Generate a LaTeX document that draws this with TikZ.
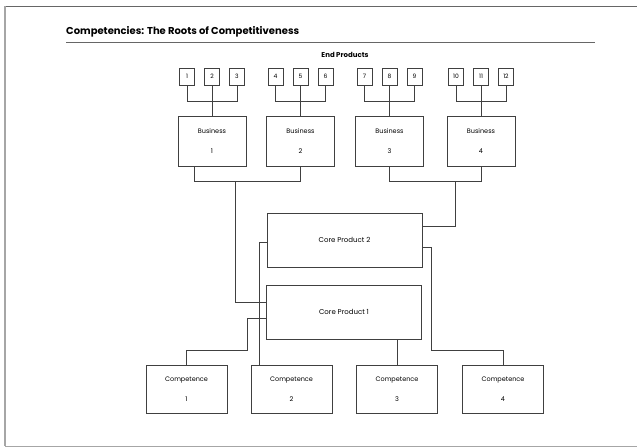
\documentclass[tikz,border=0pt]{standalone}
\usepackage{fontspec}
\setmainfont{Poppins}
\begin{document}
\begin{tikzpicture}[x=1pt,y=-1pt,
  ln/.style={draw=black!75,line width=0.8pt},
  epbox/.style={ln,rectangle,minimum width=15pt,minimum height=17pt,inner sep=0pt,font=\fontsize{6}{7}\selectfont},
  busbox/.style={ln,rectangle,minimum width=68pt,minimum height=50pt,inner sep=0pt,align=center,font=\fontsize{6.5}{20}\selectfont},
  corebox/.style={ln,rectangle,minimum width=155pt,minimum height=54pt,inner sep=0pt,font=\fontsize{7}{8}\selectfont},
  compbox/.style={ln,rectangle,minimum width=81pt,minimum height=48pt,inner sep=0pt,align=center,font=\fontsize{6.5}{20}\selectfont},
  conn/.style={ln}
]
\useasboundingbox (0,0) rectangle (637,447);
% frame
\draw[black!60,line width=0.8pt] (5,6) -- (637,6);
\draw[black!35,line width=1.6pt] (5,6) -- (5,446);
\draw[black!35,line width=0.8pt] (5,446) -- (637,446);
% title
\node[anchor=west,inner sep=0pt,font=\fontsize{10}{12}\bfseries] (title) at (66,32) {Competencies: The Roots of Competitiveness};
\draw[black!60,line width=1pt] (66,42) -- (595,42);
\node[inner sep=0pt,font=\fontsize{7}{8}\bfseries] (endp) at (345,55) {End Products};
% business boxes
\node[busbox] (b1) at (212,141) {Business\\1};
\node[busbox] (b2) at (300.5,141) {Business\\2};
\node[busbox] (b3) at (389.5,141) {Business\\3};
\node[busbox] (b4) at (481,141) {Business\\4};
% end product boxes
\foreach \g/\c in {1/212,2/300.5,3/389.5,4/481}{
  \pgfmathtruncatemacro{\na}{3*\g-2}
  \pgfmathtruncatemacro{\nb}{3*\g-1}
  \pgfmathtruncatemacro{\nc}{3*\g}
  \node[epbox] (e\na) at (\c-25,76.5) {\na};
  \node[epbox] (e\nb) at (\c,76.5) {\nb};
  \node[epbox] (e\nc) at (\c+25,76.5) {\nc};
  \draw[conn] (e\na.south) -- ++(0,16) -| (e\nc.south);
  \draw[conn] (e\nb.south) -- (b\g.north);
}
% core products
\node[corebox] (cp2) at (344.5,240) {Core Product 2};
\node[corebox] (cp1) at (344,312) {Core Product 1};
% competences
\node[compbox] (c1) at (186.5,389) {Competence\\1};
\node[compbox] (c2) at (291.5,389) {Competence\\2};
\node[compbox] (c3) at (397,389) {Competence\\3};
\node[compbox] (c4) at (503,389) {Competence\\4};
% business brackets
\coordinate (b1d) at ([xshift=-18pt]b1.south);
\draw[conn] (b1d) -- ++(0,15) -| (b2.south);
\coordinate (j12) at (235,181);
\draw[conn] (j12) |- ([yshift=10pt]cp1.west);
\draw[conn] (b3.south) -- ++(0,15) -| (b4.south);
\coordinate (j34) at (455,181);
\draw[conn] (j34) |- ([yshift=14pt]cp2.east);
% core to competences
\coordinate (v2) at (259,0);
\coordinate (v1) at (247,0);
\coordinate (v4) at (431,0);
\coordinate (h1) at (0,350);
\draw[conn] ([yshift=-2pt]cp2.west) -| (v2 |- c2.north);
\draw[conn] ([yshift=-6pt]cp1.west) -| (v1 |- h1) -| (c1.north);
\draw[conn] (cp1.south -| c3.north) -- (c3.north);
\draw[conn] ([yshift=-7pt]cp2.east) -| (v4 |- h1) -| (c4.north);
\end{tikzpicture}
\end{document}
